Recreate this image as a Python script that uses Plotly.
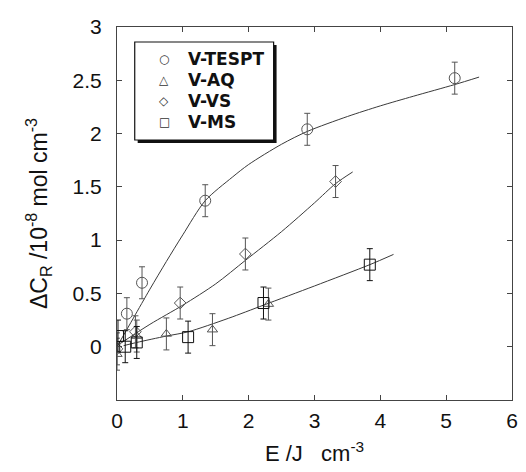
import plotly.graph_objects as go

# ---- data ----
tespt_x = [0.15, 0.38, 1.34, 2.89, 5.13]
tespt_y = [0.31, 0.60, 1.37, 2.04, 2.52]
aq_x = [0.0, 0.30, 0.75, 1.45, 2.30]
aq_y = [-0.07, 0.10, 0.12, 0.16, 0.40]
vs_x = [0.0, 0.28, 0.96, 1.95, 3.32]
vs_y = [-0.02, 0.14, 0.41, 0.87, 1.55]
ms_x = [0.015, 0.125, 0.30, 1.08, 2.225, 3.84]
ms_y = [0.10, 0.00, 0.04, 0.09, 0.41, 0.77]
err = 0.15

# fitted curves
tespt_fit_x = [0.0, 0.25, 0.5, 0.75, 1.0, 1.34, 1.75, 2.0, 2.5, 2.89, 3.5, 4.0, 4.5, 5.13, 5.5]
tespt_fit_y = [0.0, 0.27, 0.54, 0.80, 1.05, 1.37, 1.59, 1.71, 1.90, 2.02, 2.16, 2.26, 2.35, 2.46, 2.53]
vs_fit_x = [0.05, 0.5, 1.0, 1.5, 1.95, 2.5, 3.0, 3.32, 3.58]
vs_fit_y = [0.03, 0.21, 0.39, 0.59, 0.81, 1.08, 1.35, 1.53, 1.64]
ms_fit_x = [0.1, 0.3, 0.75, 1.08, 1.69, 2.225, 3.0, 3.84, 4.2]
ms_fit_y = [0.01, 0.04, 0.10, 0.14, 0.266, 0.39, 0.57, 0.77, 0.866]

x_ticks = [0, 1, 2, 3, 4, 5, 6]
y_ticks = [0, 0.5, 1, 1.5, 2, 2.5, 3]
y_ticktext = ["0", "0.5", "1", "1.5", "2", "2.5", "3"]

legend_names = ["V-TESPT", "V-AQ", "V-VS", "V-MS"]
legend_glyphs = ["○", "△", "◇", "□"]

fig = go.Figure()

LINE = "#3a3a3a"
for fx, fy in [(tespt_fit_x, tespt_fit_y), (vs_fit_x, vs_fit_y), (ms_fit_x, ms_fit_y)]:
    fig.add_trace(go.Scatter(x=fx, y=fy, mode="lines",
                             line=dict(color=LINE, width=1, shape="spline", smoothing=0.8),
                             showlegend=False, hoverinfo="skip"))

series = [
    ("V-TESPT", tespt_x, tespt_y, "circle-open", 11, "#555555"),
    ("V-AQ", aq_x, aq_y, "triangle-up-open", 9, "#555555"),
    ("V-VS", vs_x, vs_y, "diamond-open", 9, "#555555"),
    ("V-MS", ms_x, ms_y, "square-open", 11, "#111111"),
]
for name, xs, ys, sym, sz, col in series:
    fig.add_trace(go.Scatter(
        x=xs, y=ys, mode="markers", name=name, showlegend=False,
        marker=dict(symbol=sym, size=sz, color=col, line=dict(width=1, color=col)),
        error_y=dict(type="constant", value=err, color=col, thickness=1, width=3),
    ))

axis_common = dict(
    showline=True, linecolor="#444", linewidth=1, mirror="ticks",
    ticks="inside", ticklen=5, tickcolor="#444", showgrid=False, zeroline=False,
    tickfont=dict(family="Liberation Sans, Arial", size=21, color="#111"),
)

fig.update_layout(
    width=526, height=472,
    margin=dict(l=117, r=8, t=27, b=72),
    paper_bgcolor="white", plot_bgcolor="white",
    showlegend=False,
    xaxis=dict(range=[0, 6], tickvals=x_ticks, ticklabelstandoff=2,
               title=dict(text="E /J\u00a0\u00a0\u00a0cm<sup>-3</sup>", standoff=14,
                          font=dict(family="Liberation Sans, Arial", size=22, color="#111")),
               **axis_common),
    yaxis=dict(range=[-0.5, 3], tickvals=y_ticks, ticktext=y_ticktext, ticklabelstandoff=10,
               title=dict(text="ΔC<sub>R</sub> /10<sup>-8</sup> mol cm<sup>-3</sup>", standoff=18,
                          font=dict(family="Liberation Sans, Arial", size=23, color="#111")),
               **axis_common),
)

# ---- manual legend box (pixel layout converted to paper coords) ----
PL, PR, PT, PB = 117, 518, 27, 400
def px(x):
    return (x - PL) / (PR - PL)
def py(y):
    return (PB - y) / (PB - PT)

bx0, bx1, by0, by1 = 135, 276, 42, 140
fig.add_shape(type="rect", xref="paper", yref="paper",
              x0=px(bx0 + 3), x1=px(bx1 + 3), y0=py(by1 + 3), y1=py(by0 + 3),
              fillcolor="#111", line=dict(width=0), layer="above")
fig.add_shape(type="rect", xref="paper", yref="paper",
              x0=px(bx0), x1=px(bx1), y0=py(by1), y1=py(by0),
              fillcolor="white", line=dict(color="#111", width=1.2), layer="above")

rows = [59, 80, 101, 122]
for name, glyph, ry in zip(legend_names, legend_glyphs, rows):
    fig.add_annotation(x=px(165), y=py(ry), xref="paper", yref="paper", text=glyph,
                       showarrow=False, xanchor="center", yanchor="middle",
                       font=dict(family="DejaVu Sans", size=12, color="#333"))
    fig.add_annotation(x=px(187), y=py(ry), xref="paper", yref="paper", text=name,
                       showarrow=False, xanchor="left", yanchor="middle",
                       font=dict(family="DejaVu Sans", size=17, color="#111", weight="bold"))

fig.write_html("out.html")
